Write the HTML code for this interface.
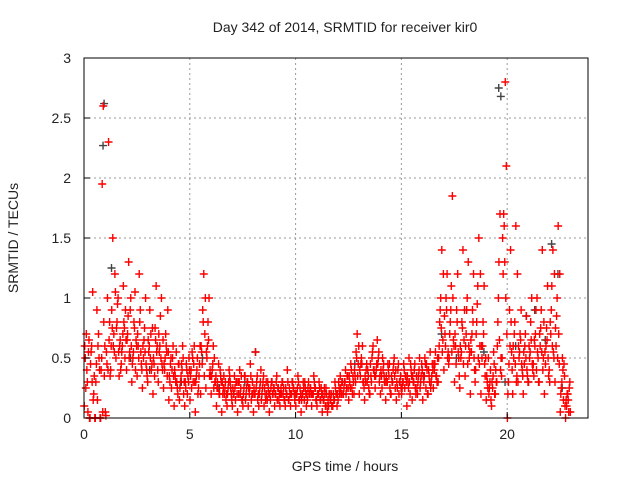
<!DOCTYPE html>
<html><head><meta charset="utf-8"><style>
body{margin:0;background:#fff}
svg{display:block;font-family:"Liberation Sans",sans-serif}
</style></head><body>
<svg id="chart" width="640" height="480" viewBox="0 0 640 480">
<rect x="0" y="0" width="640" height="480" fill="#fff"/>
<text x="345" y="32" font-size="14" text-anchor="middle" fill="#222">Day 342 of 2014, SRMTID for receiver kir0</text>
<text x="345" y="471" font-size="14" text-anchor="middle" fill="#222">GPS time / hours</text>
<text x="18" y="238" font-size="14" text-anchor="middle" fill="#222" transform="rotate(-90 18 238)">SRMTID / TECUs</text>
<g id="grid"></g><g id="marks"></g><g id="axes"></g>
</svg>
<script>
const xTicks=[0,5,10,15,20];
const yTicks=[0,0.5,1,1.5,2,2.5,3];
const yTickLabels=["0","0.5","1","1.5","2","2.5","3"];
const binTimes=[0,0.25,0.5,0.75,1,1.25,1.5,1.75,2,2.25,2.5,2.75,3,3.25,3.5,3.75,4,4.25,4.5,4.75,5,5.25,5.5,5.75,6,6.25,6.5,6.75,7,7.25,7.5,7.75,8,8.25,8.5,8.75,9,9.25,9.5,9.75,10,10.25,10.5,10.75,11,11.25,11.5,11.75,12,12.25,12.5,12.75,13,13.25,13.5,13.75,14,14.25,14.5,14.75,15,15.25,15.5,15.75,16,16.25,16.5,16.75,17,17.25,17.5,17.75,18,18.25,18.5,18.75,19,19.25,19.5,19.75,20,20.25,20.5,20.75,21,21.25,21.5,21.75,22,22.25,22.5,22.75];
const valsA=[.1,0,0,0,.05,.4,.5,.45,.4,.3,.35,.25,.3,.2,.3,.25,.15,.1,.15,.1,.15,.05,.2,.25,.2,.1,.05,.1,.1,.05,.1,.1,.05,.1,.1,.05,.1,.1,.1,.1,.1,.05,.1,.1,.1,.05,.05,.1,.15,.2,.15,.2,.2,.15,.2,.25,.2,.15,.2,.15,.2,.1,.15,.2,.15,.2,.25,.5,.4,.5,.3,.25,.35,.2,.4,.2,.15,.1,.3,.5,0,.2,.3,.2,.3,.35,.3,.2,.3,.3,.05,0];
const valsB=[.5,.45,.3,.4,.55,.9,.8,.6,.7,.5,.6,.5,.55,.45,.55,.4,.3,.35,.3,.25,.4,.35,.55,.5,.4,.3,.2,.25,.2,.2,.25,.2,.2,.25,.2,.15,.2,.25,.2,.2,.2,.2,.15,.2,.2,.15,.1,.15,.25,.3,.3,.35,.35,.3,.35,.4,.35,.3,.3,.25,.3,.3,.3,.35,.3,.35,.4,.8,.7,.8,.6,.5,.7,.55,.8,.5,.3,.25,.8,1.2,.3,.5,.5,.45,.5,.6,.6,.45,.7,.6,.25,.1];
const valsC=[.7,.6,.9,1.95,1,1.5,1,1.1,1.3,.8,1.2,.75,.9,.75,.85,.7,.5,.55,.45,.4,.55,.5,.9,.8,.6,.45,.35,.4,.35,.4,.35,.45,.55,.4,.3,.3,.35,.3,.4,.3,.35,.3,.3,.35,.3,.25,.2,.3,.35,.4,.45,.55,.5,.45,.5,.65,.5,.45,.4,.45,.45,.5,.4,.5,.5,.55,.55,1,1,1.1,.9,.8,1,.9,1.1,.8,.5,.55,1.3,1.6,.9,.8,.7,.7,.8,.9,.9,.75,1.1,1,.5,.2];
const valsD=[.3,1.05,.6,2.6,2.3,.7,.35,.75,.55,1.05,.9,1,.7,1.1,1,.55,.4,.25,.6,.35,.3,.25,1.2,1,.5,.2,.25,.3,.15,.25,.2,.15,.3,.2,.15,.2,.25,.2,.15,.25,.15,.15,.2,.25,.15,.1,.15,.2,.2,.25,.25,.7,.6,.4,.6,.5,.45,.35,.5,.3,.25,.2,.25,.3,.25,.3,.35,1.4,1.2,1.85,1.2,1.4,1.3,1.2,1.5,1.1,.25,.2,1.7,2.8,1.4,1.6,.9,.85,1,1,1.4,1.1,1.4,1.6,.15,.05];
const valsE=[.55,.2,.5,.35,.8,1.2,.65,.9,1,.65,.45,.4,.45,.6,.4,.9,.6,.45,.2,.5,.6,.45,.7,.4,.3,.35,.15,.2,.3,.15,.3,.3,.15,.3,.25,.25,.15,.15,.25,.15,.25,.25,.25,.15,.25,.2,.1,.1,.3,.35,.35,.45,.3,.25,.4,.3,.3,.25,.25,.35,.35,.4,.35,.45,.4,.45,.5,.65,.55,.65,.5,.65,.5,.4,.6,.35,.4,.4,.5,2.1,.55,.35,.4,.35,.4,.5,.5,.35,.5,.45,.35,.3];
const valsF=[.6,0,0,.0,.02,.6,.75,.55,.65,.45,.7,.6,.65,.5,.7,.45,.35,.4,.25,.3,.35,.3,.6,.55,.35,.25,.3,.2,.25,.3,.2,.25,.25,.2,.25,.2,.2,.2,.25,.2,.2,.15,.2,.2,.2,.2,.15,.2,.3,.25,.35,.4,.4,.35,.45,.35,.4,.35,.35,.3,.25,.35,.35,.3,.35,.4,.45,.6,.85,.7,.7,.6,.6,.65,.7,.6,.35,.3,.6,1.5,.2,.6,.6,.55,.6,.65,.7,.55,.8,.75,.2,.15];
const valsG=[.25,.55,.45,.5,.45,.75,.95,.7,.85,.55,.5,.65,.6,.35,.6,.5,.45,.3,.35,.45,.25,.4,.45,.6,.45,.25,.25,.3,.2,.3,.35,.25,.2,.3,.15,.25,.3,.2,.2,.3,.25,.2,.25,.2,.2,.15,.2,.15,.2,.3,.25,.3,.45,.4,.3,.45,.25,.3,.3,.4,.3,.25,.3,.4,.35,.3,.45,.9,.6,.9,.45,.55,.9,.7,.95,.6,.25,.35,1,1.7,.45,.7,.55,.6,.55,.7,.75,.6,.9,.85,.3,.2];
const valsH=[.4,.3,.15,.05,.4,.6,.55,.8,.5,.75,.8,.55,.5,.65,.5,.6,.25,.3,.4,.2,.5,.2,.8,.65,.25,.2,.2,.35,.25,.2,.15,.35,.25,.15,.2,.3,.15,.3,.3,.25,.3,.25,.2,.3,.25,.2,.15,.25,.25,.2,.4,.5,.45,.3,.55,.45,.4,.4,.45,.2,.4,.3,.45,.25,.45,.25,.35,.75,.9,.55,.8,.75,.45,.8,.5,.7,.2,.45,.65,1.3,.6,.45,.65,.5,.65,.4,.55,.65,.6,.5,.4,.15];
const valsI=[.05,.15,.7,.8,.65,.55,.6,.5,.9,.4,.55,.45,.4,.55,.45,.35,.5,.2,.5,.3,.45,.35,.35,.35,.3,.4,.3,.25,.3,.35,.25,.2,.35,.25,.3,.2,.25,.25,.15,.2,.15,.3,.25,.25,.15,.25,.2,.2,.3,.35,.2,.35,.3,.35,.4,.55,.35,.45,.35,.3,.35,.45,.2,.35,.45,.35,.3,.55,.5,1,.55,.45,.6,.5,.45,.45,.3,.2,.4,1,.8,.3,.45,.4,.45,.55,.4,.5,.55,.7,.45,.25];
const valsJ=[.65,.35,.4,.6,.35,1.05,.4,.65,.6,.6,.4,.35,.75,.4,.65,.55,.35,.45,.3,.4,.3,.6,1,.35,.35,.3,.2,.15,.2,.15,.3,.2,.2,.35,.2,.25,.2,.15,.2,.2,.2,.2,.2,.15,.2,.1,.1,.2,.2,.25,.3,.6,.25,.2,.35,.35,.3,.2,.4,.25,.3,.35,.25,.4,.2,.4,.3,1.2,.45,.6,.35,.9,.55,.3,1.2,.5,.15,.3,.35,.7,.4,1.2,.35,.3,.45,.3,.8,.4,1.2,1.2,.1,.05];
const greyT=[0.9,0.95,1.3,2.2,3.1,4.6,5.6,6.4,7.6,8.1,9.3,12.8,14.2,15.8,16.9,17.6,18.9,19.6,19.7,19.9,20.4,20.9,21.3,21.8,22.1,22.4,22.6];
const greyV=[2.27,2.62,1.25,0.5,0.4,0.3,0.5,0.25,0.3,0.55,0.2,0.45,0.3,0.35,0.7,0.5,0.55,2.75,2.68,0.3,0.6,0.85,0.9,0.65,1.45,1.2,0.25];

const NS="http://www.w3.org/2000/svg";
const L=84,R=588,T=58,B=418,XMAX=23.82,YMAX=3;
const xs=t=>L+t/XMAX*(R-L), ys=v=>B-v/YMAX*(B-T);
const grid=document.getElementById('grid'),marks=document.getElementById('marks'),axes=document.getElementById('axes');
function mk(tag,attrs,parent){const e=document.createElementNS(NS,tag);for(const k in attrs)e.setAttribute(k,attrs[k]);parent.appendChild(e);return e;}
xTicks.forEach(t=>{
  if(t>0){const g=mk('line',{x1:xs(t),x2:xs(t),y1:T,y2:B,stroke:'#999','stroke-dasharray':'2,3'},grid);
  
  }
  const tk=mk('line',{x1:xs(t),x2:xs(t),y1:B,y2:B-6,stroke:'#000'},axes);
  
  
  const lb=mk('text',{x:xs(t),y:B+21,'font-size':14,'text-anchor':'middle',fill:'#222'},axes);
  lb.textContent=t;
  
  
});
yTicks.forEach((v,i)=>{
  if(v>0&&v<3){const g=mk('line',{x1:L,x2:R,y1:ys(v),y2:ys(v),stroke:'#999','stroke-dasharray':'2,3'},grid);
  
  }
  const tk=mk('line',{x1:L,x2:L+6,y1:ys(v),y2:ys(v),stroke:'#000'},axes);
  
  
  const lb=mk('text',{x:71,y:ys(v)+5,'font-size':14,'text-anchor':'end',fill:'#222'},axes);
  lb.textContent=yTickLabels[i];
  
  
});
const frame=mk('rect',{x:L,y:T,width:R-L,height:B-T,fill:'none',stroke:'#000'},axes);


function plus(t,v,col){
  const x=xs(t),y=ys(v);
  const p=mk('path',{d:`M${x-4} ${y}H${x+4}M${x} ${y-4}V${y+4}`,stroke:col,'stroke-width':1.4,fill:'none'},marks);
  
  
}
greyT.forEach((t,i)=>plus(t,greyV[i],'#444'));
const series=[valsA,valsB,valsC,valsD,valsE,valsF,valsG,valsH,valsI,valsJ];
const offs=[0.01,0.06,0.11,0.16,0.21,0.035,0.085,0.135,0.185,0.235];
series.forEach((arr,s)=>binTimes.forEach((t,i)=>plus(t+offs[s],arr[i],'#f00')));
</script>
</body></html>
